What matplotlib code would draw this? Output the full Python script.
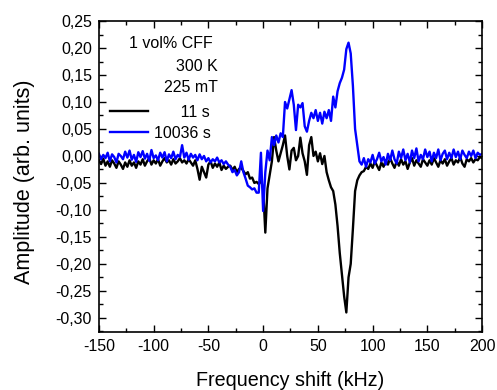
import numpy as np
import matplotlib
matplotlib.use("Agg")
import matplotlib.pyplot as plt
from matplotlib.ticker import MultipleLocator, FuncFormatter

plt.rcParams['font.family'] = ['Liberation Sans', 'DejaVu Sans']
plt.rcParams['axes.unicode_minus'] = False

# frequency axis (kHz), uniform sampling every 2 kHz
freq_khz = np.arange(-150, 201, 2)

# amplitude after 11 s (black)
amp_11s = [
    -0.008, -0.015, -0.005, -0.018, -0.010, -0.020, -0.008, -0.014, -0.022, -0.010,
    -0.016, -0.024, -0.012, -0.020, -0.008, -0.018, -0.012, -0.022, -0.010, -0.016,
    -0.006, -0.018, -0.010, -0.004, -0.016, -0.008, -0.014, -0.006, -0.018, -0.010,
    -0.004, -0.012, -0.008, -0.016, -0.006, -0.014, -0.010, -0.004, -0.012, -0.008,
    -0.014, -0.006, -0.012, -0.018, -0.008, -0.024, -0.044, -0.020, -0.030, -0.040,
    -0.016, -0.010, -0.022, -0.014, -0.020, -0.012, -0.026, -0.018, -0.024, -0.020,
    -0.018, -0.026, -0.020, -0.030, -0.024, -0.022, -0.028, -0.034, -0.030, -0.042,
    -0.040, -0.050, -0.048, -0.052, -0.045, -0.060, -0.142, -0.060, -0.035, -0.010,
    0.035, 0.010, -0.010, 0.005, 0.020, 0.038, 0.000, -0.025, 0.010, 0.015,
    -0.008, 0.000, 0.034, 0.005, -0.010, -0.035, 0.020, 0.035, 0.000, 0.008,
    -0.010, 0.005, -0.015, 0.000, -0.030, -0.045, -0.058, -0.065, -0.090, -0.130,
    -0.180, -0.220, -0.260, -0.290, -0.225, -0.200, -0.135, -0.065, -0.045, -0.036,
    -0.030, -0.028, -0.020, -0.024, -0.014, -0.022, -0.010, -0.018, -0.026, -0.012,
    -0.020, -0.008, -0.016, -0.004, -0.014, -0.022, -0.010, -0.018, -0.006, -0.016,
    -0.010, -0.024, -0.012, -0.004, -0.018, -0.008, -0.014, -0.020, -0.006, -0.012,
    -0.018, -0.008, -0.016, -0.004, -0.012, -0.020, -0.008, -0.014, -0.006, -0.018,
    -0.010, -0.004, -0.016, -0.008, -0.012, -0.002, -0.014, -0.020, -0.006, -0.010,
    -0.004, -0.012, -0.006, -0.008, -0.002, -0.004,
]

# amplitude after 10036 s (blue)
amp_10036s = [
    0.004, -0.006, 0.002, -0.004, 0.006, -0.010, 0.003, -0.002, -0.012, 0.004,
    0.000, -0.006, 0.008, -0.003, 0.010, -0.007, 0.002, -0.011, 0.007, -0.002,
    0.009, -0.005, 0.004, -0.009, 0.011, -0.004, 0.001, -0.008, 0.006, -0.003,
    0.007, -0.010, 0.003, -0.004, 0.008, -0.006, 0.002, -0.002, 0.020, -0.003,
    0.006, -0.007, 0.004, -0.003, 0.002, -0.008, 0.003, -0.006, 0.000, -0.010,
    -0.004, -0.012, -0.006, -0.010, -0.003, -0.012, -0.008, -0.015, -0.010, -0.016,
    -0.020, -0.030, -0.026, -0.036, -0.030, -0.010, -0.030, -0.042, -0.055, -0.058,
    -0.062, -0.060, -0.068, -0.068, 0.006, -0.102, -0.030, 0.010, -0.008, 0.035,
    0.020, 0.038, 0.025, 0.042, 0.035, 0.100, 0.088, 0.105, 0.122, 0.095,
    0.048, 0.095, 0.090, 0.098, 0.055, 0.045, 0.065, 0.080, 0.070, 0.085,
    0.065, 0.080, 0.060, 0.082, 0.070, 0.085, 0.065, 0.110, 0.090, 0.120,
    0.135, 0.145, 0.160, 0.198, 0.210, 0.190, 0.130, 0.050, 0.020, -0.010,
    -0.016, -0.004, -0.020, -0.006, -0.012, 0.002, -0.014, -0.006, 0.006, -0.010,
    -0.002, -0.016, 0.004, -0.008, 0.010, -0.006, -0.014, 0.008, -0.004, 0.012,
    -0.008, 0.004, -0.012, 0.010, -0.004, 0.014, -0.010, 0.002, -0.006, 0.012,
    -0.002, 0.008, -0.010, 0.006, -0.004, 0.012, -0.008, 0.004, 0.010, -0.006,
    0.006, -0.004, 0.012, -0.002, 0.008, -0.006, 0.010, 0.002, -0.004, 0.008,
    0.000, 0.010, -0.004, 0.006, 0.002, 0.004,
]

header_lines = ["1 vol% CFF", "300 K", "225 mT"]
series_labels = ["\u2007\u2007\u200711 s", "10036 s"]
series_colors = ["black", "#0000ff"]

fig = plt.figure(figsize=(4.97, 3.90), dpi=100)
ax = fig.add_axes([0.199, 0.149, 0.771, 0.797])

ax.plot(freq_khz, amp_11s, color=series_colors[0], lw=1.7, label=series_labels[0])
ax.plot(freq_khz, amp_10036s, color=series_colors[1], lw=1.7, label=series_labels[1])

ax.set_xlim(-150, 200)
ax.set_ylim(-0.326, 0.25)
ax.xaxis.set_major_locator(MultipleLocator(50))
ax.xaxis.set_minor_locator(MultipleLocator(25))
ax.yaxis.set_major_locator(MultipleLocator(0.05))
ax.yaxis.set_minor_locator(MultipleLocator(0.025))
ax.yaxis.set_major_formatter(FuncFormatter(lambda v, p: f"{v:.2f}".replace(".", ",").replace("-0,00", "0,00")))
ax.xaxis.set_major_formatter(FuncFormatter(lambda v, p: f"{v:.0f}"))

ax.tick_params(which='both', direction='in', top=True, right=True, labelsize=11.5, width=1.0)
ax.tick_params(which='major', length=5, pad=5)
ax.tick_params(which='minor', length=3)
for s in ax.spines.values():
    s.set_linewidth(1.2)

ax.set_xlabel("Frequency shift (kHz)", fontsize=14.2, labelpad=12)
ax.set_ylabel("Amplitude (arb. units)", fontsize=15.5)
ax.yaxis.set_label_coords(-0.168, 0.482)

header_x = [0.298, 0.311, 0.311]
header_y = [0.929, 0.855, 0.785]
for t, hx, hy in zip(header_lines, header_x, header_y):
    ax.text(hx, hy, t, transform=ax.transAxes, ha='right', va='center', fontsize=11.5)

leg = ax.legend(loc='upper left', bbox_to_anchor=(0.02, 0.74), frameon=False,
                fontsize=11.5, handlelength=2.4, handletextpad=0.4,
                labelspacing=0.35, borderaxespad=0.2, borderpad=0.0)

fig.savefig("out.png", dpi=100)
